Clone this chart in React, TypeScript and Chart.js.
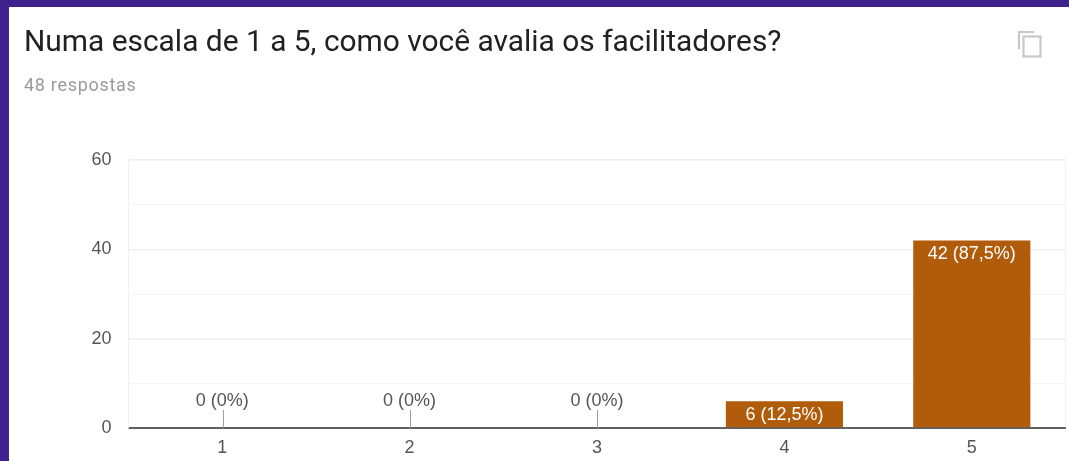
import React, { useEffect, useRef } from "react";
import { Chart, registerables } from "chart.js";

Chart.register(...registerables);

const categories = ["1", "2", "3", "4", "5"];
const responses = [0, 0, 0, 6, 42];
const valueLabels = ["0 (0%)", "0 (0%)", "0 (0%)", "6 (12,5%)", "42 (87,5%)"];
const yTicks = [0, 20, 40, 60];
const yGridValues = [0, 10, 20, 30, 40, 50, 60];
const titleText = "Numa escala de 1 a 5, como você avalia os facilitadores?";
const subtitleText = "48 respostas";

const FONT = "Roboto, Arial, sans-serif";
const LABEL_FONT = "'Liberation Sans', Arial, sans-serif";

const barLabels = {
  id: "barLabels",
  afterDatasetsDraw(chart: any) {
    const { ctx, scales } = chart;
    const x = scales.x;
    const y = scales.y;
    ctx.save();
    ctx.font = `18px ${LABEL_FONT}`;
    ctx.textAlign = "center";
    ctx.textBaseline = "middle";
    responses.forEach((v, i) => {
      const cx = x.getPixelForValue(i);
      if (v === 0) {
        ctx.strokeStyle = "#9e9e9e";
        ctx.lineWidth = 1;
        ctx.beginPath();
        ctx.moveTo(Math.ceil(cx) + 0.5, y.getPixelForValue(0));
        ctx.lineTo(Math.ceil(cx) + 0.5, y.getPixelForValue(0) - 18);
        ctx.stroke();
        ctx.fillStyle = "#555555";
        ctx.fillText(valueLabels[i], cx, y.getPixelForValue(0) - 27);
      } else {
        ctx.fillStyle = "#ffffff";
        ctx.fillText(valueLabels[i], cx, y.getPixelForValue(v) + 14);
      }
    });
    ctx.restore();
  },
};

export default function App() {
  const ref = useRef<HTMLCanvasElement>(null);
  useEffect(() => {
    const chart = new Chart(ref.current!, {
      type: "bar",
      data: {
        labels: categories,
        datasets: [
          {
            data: responses,
            backgroundColor: "#b15c0b",
            barPercentage: 0.625,
            categoryPercentage: 1,
          },
        ],
      },
      options: {
        animation: false,
        responsive: false,
        layout: { padding: { left: 0, right: 3.5, top: 160, bottom: 0 } },
        plugins: { legend: { display: false }, tooltip: { enabled: false } },
        scales: {
          x: {
            grid: {
              drawTicks: false,
              color: (c: any) => (c.index === 0 || c.index === undefined ? "#f1f1f1" : "rgba(0,0,0,0)"),
            },
            border: { color: "#616161", width: 2 },
            ticks: { color: "#555555", font: { family: LABEL_FONT, size: 18 }, padding: 9, maxRotation: 0 },
            afterFit(s: any) {
              s.height = 33;
            },
          },
          y: {
            min: 0,
            max: 60,
            afterBuildTicks(s: any) {
              s.ticks = yGridValues.map((value) => ({ value }));
            },
            grid: {
              color: (c: any) => (yTicks.includes(c.tick?.value) ? "#eeeeee" : "#f5f5f5"),
              lineWidth: (c: any) => (yTicks.includes(c.tick?.value) ? 1.5 : 1),
              drawTicks: false,
            },
            border: { display: true, color: "#f1f1f1" },
            ticks: {
              color: "#555555",
              autoSkip: false,
              font: { family: LABEL_FONT, size: 18 },
              padding: 17,
              callback: (v: any) => (yTicks.includes(v) ? String(v) : ""),
            },
            afterFit(s: any) {
              s.width = 128.5;
            },
          },
        },
      },
      plugins: [barLabels],
    });
    return () => chart.destroy();
  }, []);

  return (
    <div style={{ position: "fixed", left: 0, top: 0, width: 1069, height: 461, background: "#40228f", overflow: "hidden" }}>
      <div style={{ position: "absolute", left: 9, top: 7, width: 1060, height: 454, background: "#ffffff" }} />
      <canvas ref={ref} width={1069} height={461} style={{ position: "absolute", left: 0, top: 0, display: "block" }} />
      <div style={{ position: "absolute", left: 24, top: 23, font: `29.9px ${FONT}`, lineHeight: "36px", color: "#212121", whiteSpace: "nowrap" }}>{titleText}</div>
      <div style={{ position: "absolute", left: 24, top: 75, font: `18px ${FONT}`, letterSpacing: "0.7px", lineHeight: "20px", color: "#9a9a9a", whiteSpace: "nowrap" }}>{subtitleText}</div>
      <svg width="26" height="28" viewBox="0 0 26 28" style={{ position: "absolute", left: 1017, top: 30 }} fill="none" stroke="#c8c8c8" strokeWidth="2.2">
        <path d="M2 19 V2 H17" />
        <rect x="6.5" y="6.5" width="17" height="20" />
      </svg>
    </div>
  );
}
